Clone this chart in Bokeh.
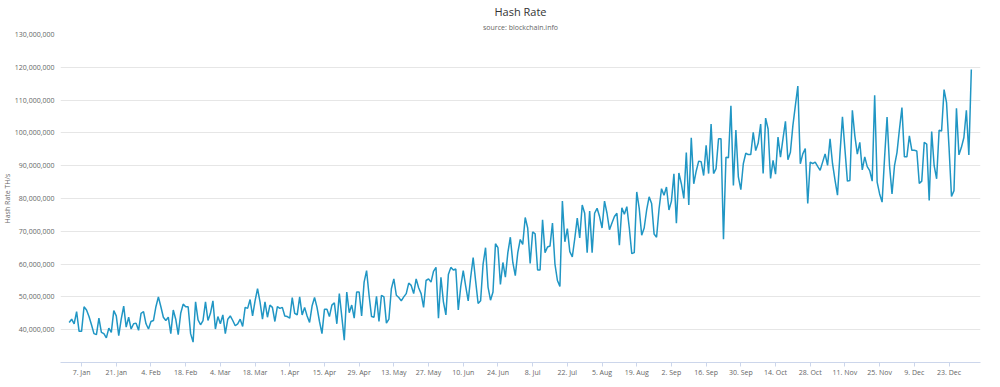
import numpy as np
import pandas as pd
from bokeh.plotting import figure
from bokeh.models import (Range1d, FixedTicker, CustomJSTickFormatter,
                          NumeralTickFormatter, Title)
from bokeh.embed import file_html
from bokeh.resources import INLINE

# ---------------- data (hash rate, millions of TH/s, daily) ----------------
start_date = "2019-01-02"
hash_rate_millions = [
    42.2, 43.2, 41.8, 45.5, 39.5, 39.5, 47, 46, 44, 41.5, 38.8, 38.5, 43.5, 39.2, 38.8, 37.5,
    40.5, 39.2, 45.8, 44.2, 38.2, 43.2, 47.2, 40.8, 43.8, 40.2, 41.8, 42, 39.8, 45, 45.5, 41.8,
    40.2, 42.5, 42.8, 47, 50, 47, 43.8, 42.8, 43.8, 38.8, 46, 43.2, 38.5, 45, 47.8, 47, 47, 38.8,
    36.2, 48.5, 43, 41.5, 42.8, 48.5, 42.8, 45, 48.8, 40.2, 44, 41.8, 44.5,
    38.8, 43.2, 44.2, 42.8, 41.2, 41.8, 43.2, 41, 46.8, 46.5, 49.2, 44.2, 48.8, 52.5, 48.5, 43.2,
    48.5, 43.8, 47.5, 46.8, 42.5, 47, 46.5, 46.8, 44.2, 44, 43.5, 49.8, 45, 44.5, 50, 44.5, 46.8,
    44.2, 42.2, 47.2, 49.8, 46.8, 42.5, 38.8, 46.2, 46.2, 44, 47.5, 48.2, 41.8, 51, 44, 36.8, 51.5,
    45.2, 47.5, 43.5, 51.5, 51.5, 44.2, 54.5, 58, 50.5, 44, 43.8, 50.2, 42.5, 50.5,
    50, 42, 43.2, 52.5, 55.5, 50.5, 49.8, 48.8, 50, 51, 54.2, 53.5, 51, 55.5, 52.8, 51, 46.8, 55,
    55.5, 54.5, 57.8, 59, 43.5, 56, 48.5, 44.5, 56.8, 59, 58.2, 58.5, 46, 53.2, 58, 53.2, 48.8, 56,
    62, 54.8, 48, 48.8, 60, 65, 53, 49, 51.5, 66.2, 65, 53.8, 60.5, 56, 63.5, 68.2, 60.5, 56.5, 63.5,
    67.5, 66, 74.2, 71, 60.2, 69.8, 69.2, 58.2, 58.2, 73.5,
    63.5, 65.2, 65.5, 72.5, 60, 55, 53.2, 79.2, 66.8, 70.8, 63.8, 62.2, 67.8, 74, 68, 78, 75.5,
    63.5, 76.2, 63.5, 75.5, 77, 74.5, 71, 79.2, 75.5, 70.5, 72.5, 74.5, 75.5, 65.8, 77.2, 75.2,
    77.5, 71, 63.2, 63.5, 82, 77, 68.8, 71, 76.5, 80.5, 78.5, 69.2, 68.2, 76.8, 83, 81, 83.5, 76.5,
    79.2, 87.5, 72.5, 87.8, 84.5, 80, 94, 78, 98.5,
    84.5, 88.4, 91.4, 91.2, 87, 96.2, 87.6, 102.7, 87.6, 89.1, 98.2, 98.2, 67.6, 92.6, 92.4, 108.3,
    84, 100.9, 86.6, 82.7, 90.6, 93.8, 93.4, 93.4, 100.2, 94.6, 96.9, 102.7, 87.6, 104.5, 101.2,
    86.1, 91.6, 87.4, 98.7, 92.6, 98.2, 103.5, 91.8, 94.1, 102.2, 108.3, 114.3, 90.6, 93.6, 95.2,
    78.5, 91.1, 90.6, 91.1, 89.8, 88.6, 91.1, 93.6, 90.1, 98.2, 90.6, 85.6, 81, 93.6, 104.9,
    95, 85.3, 85.5, 106.9, 99.1, 93.5, 97.1, 88.7, 92.7, 89.7, 88.5, 85.3, 111.5, 85, 81.4, 78.9,
    92.5, 104.8, 90, 81.4, 90, 94, 101.1, 107.7, 92.7, 92.7, 99.1, 94.7, 94.7, 94.5, 84.6, 85.3,
    97.1, 96.6, 79.4, 100.4, 90, 86, 100.8, 100.6, 113.2, 109.2, 95.6, 80.6, 82.4, 107.5, 93.3,
    95.6, 98.6, 106.9, 93.3, 119.3,
]
tick_start, tick_end = "2019-01-07", "2019-12-23"
y_tick_values = [40e6, 50e6, 60e6, 70e6, 80e6, 90e6, 100e6, 110e6, 120e6, 130e6]
y_min, y_max = 30e6, 130e6

dates = pd.date_range(start_date, periods=len(hash_rate_millions), freq="D")
values = np.array(hash_rate_millions) * 1e6
tick_dates = pd.date_range(tick_start, tick_end, freq="14D")
to_ms = lambda t: t.timestamp() * 1000.0
x_ticks = [to_ms(t) for t in tick_dates]

day = 86400000.0
x_start = to_ms(dates[0]) - 3.5 * day
x_end = to_ms(dates[-1]) + 3.7 * day

p = figure(width=984, height=379, x_axis_type="datetime", title=None,
           output_backend="svg", toolbar_location=None,
           x_range=Range1d(x_start, x_end), y_range=Range1d(y_min, y_max),
           min_border_left=58, min_border_right=4, min_border_top=34,
           min_border_bottom=13)

font = "Open Sans"
p.add_layout(Title(text="source: blockchain.info", align="center", text_font=font,
                   text_font_size="7px", text_font_style="normal",
                   text_color="#666666", standoff=5), "above")
p.add_layout(Title(text="Hash Rate", align="center", text_font=font,
                   text_font_size="11px", text_font_style="normal",
                   text_line_height=1.0,
                   text_color="#333333", standoff=0), "above")

p.line(dates, values, line_color="#2096c4", line_width=1.5)

p.outline_line_color = None
p.background_fill_color = "white"
p.border_fill_color = "white"

# y axis
p.yaxis.ticker = FixedTicker(ticks=y_tick_values)
p.yaxis.formatter = NumeralTickFormatter(format="0,0")
p.yaxis.axis_line_color = None
p.yaxis.major_tick_line_color = None
p.yaxis.minor_tick_line_color = None
p.yaxis.major_tick_out = 0
p.yaxis.major_label_text_font = font
p.yaxis.major_label_text_font_size = "7px"
p.yaxis.major_label_text_color = "#666666"
p.yaxis.major_label_standoff = 6
p.add_layout(Title(text="Hash Rate TH/s", align="center", text_font=font,
                   text_font_size="7px", text_font_style="normal",
                   text_color="#666666", standoff=0), "left")

# x axis
p.xaxis.ticker = FixedTicker(ticks=x_ticks)
p.xaxis.formatter = CustomJSTickFormatter(code="""
const m = ["Jan","Feb","Mar","Apr","May","Jun","Jul","Aug","Sep","Oct","Nov","Dec"];
const d = new Date(tick);
return d.getUTCDate() + ". " + m[d.getUTCMonth()];
""")
p.xaxis.axis_line_color = "#ccd6eb"
p.xaxis.major_tick_line_color = "#ccd6eb"
p.xaxis.major_tick_out = 4
p.xaxis.major_tick_in = 0
p.xaxis.minor_tick_line_color = None
p.xaxis.major_label_text_font = font
p.xaxis.major_label_text_font_size = "7px"
p.xaxis.major_label_text_line_height = 1.0
p.xaxis.major_label_text_color = "#666666"
p.xaxis.major_label_standoff = 1

p.xgrid.visible = False
p.ygrid.grid_line_color = "#e6e6e6"
p.ygrid.grid_line_width = 1

open("out.html", "w").write(file_html(p, INLINE))
